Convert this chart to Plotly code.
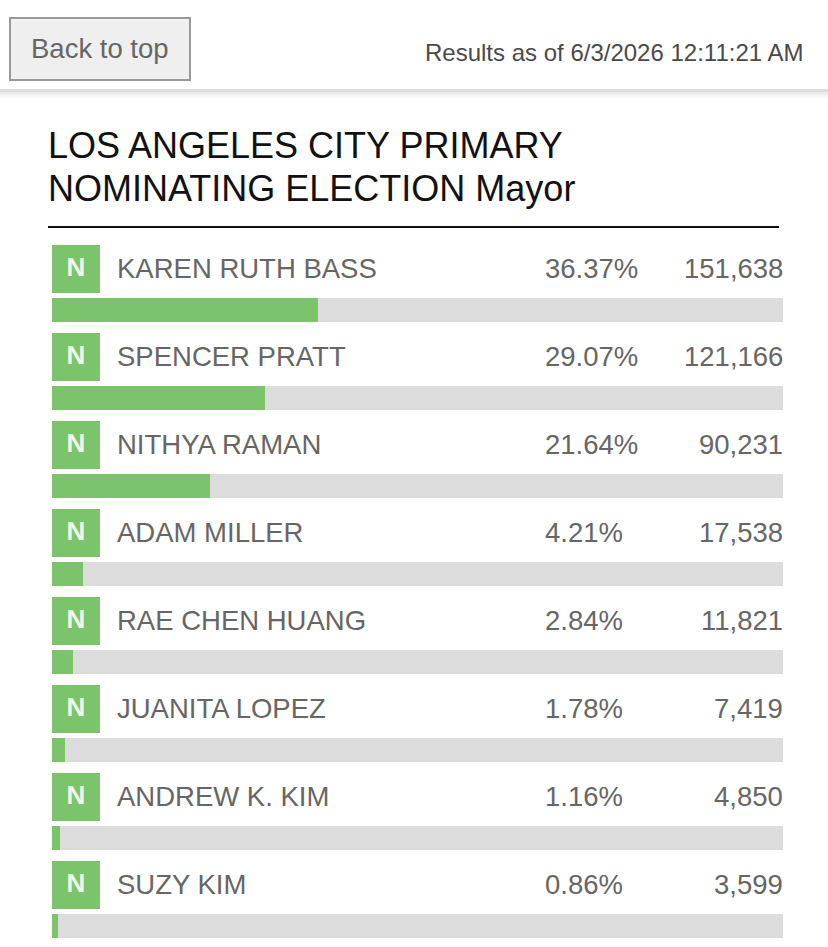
import plotly.graph_objects as go

candidates = ["KAREN RUTH BASS", "SPENCER PRATT", "NITHYA RAMAN", "ADAM MILLER",
              "RAE CHEN HUANG", "JUANITA LOPEZ", "ANDREW K. KIM", "SUZY KIM"]
pct = [36.37, 29.07, 21.64, 4.21, 2.84, 1.78, 1.16, 0.86]
votes = [151638, 121166, 90231, 17538, 11821, 7419, 4850, 3599]
party = ["N"] * len(candidates)

title_lines = ["LOS ANGELES CITY PRIMARY", "NOMINATING ELECTION Mayor"]
stamp = "Results as of 6/3/2026 12:11:21 AM"

W, H = 828, 947
FONT = "Liberation Sans, Arial, Helvetica, sans-serif"
GREEN = "#7cc46b"
GREY_BAR = "#dcdcdc"
TXT = "#666666"

# page layout in pixels
bar_left, bar_right = 52, 783
row0, row_h = 268, 88
px_per = (bar_right - bar_left) / 100.0


def px_x(px):
    return (px - bar_left) / px_per


label_y = [row0 + row_h * i for i in range(len(candidates))]
bar_y = [row0 + 42 + row_h * i for i in range(len(candidates))]
box_y = [row0 + 1 + row_h * i for i in range(len(candidates))]

fig = go.Figure()

fig.add_trace(go.Bar(x=[100] * len(candidates), y=bar_y, orientation="h", width=24,
                     marker=dict(color=GREY_BAR, line=dict(width=0)),
                     hoverinfo="skip", showlegend=False))
fig.add_trace(go.Bar(x=pct, y=bar_y, orientation="h", width=24,
                     marker=dict(color=GREEN, line=dict(width=0)),
                     hoverinfo="skip", showlegend=False))

fig.add_trace(go.Scatter(x=[px_x(76)] * len(candidates), y=box_y, mode="markers+text",
                         marker=dict(symbol="square", size=48, color=GREEN, line=dict(width=0)),
                         text=party, textposition="middle center",
                         textfont=dict(family=FONT, size=26, color="#eefbe8", weight="bold"),
                         hoverinfo="skip", showlegend=False))


def label(x, y, text, anchor, size, color, yref="y"):
    return dict(x=x / W, xref="paper", y=y, yref=yref, text=text,
                xanchor=anchor, yanchor="middle", showarrow=False,
                borderpad=0, borderwidth=0,
                font=dict(family=FONT, size=size, color=color))


ann = []
for i, name in enumerate(candidates):
    ann.append(label(117, label_y[i], name, "left", 27.5, TXT))
    ann.append(label(545, label_y[i], f"{pct[i]:.2f}%", "left", 27.5, TXT))
    ann.append(label(783, label_y[i], f"{votes[i]:,}", "right", 27.5, TXT))

# header
ann.append(label(100, 1 - 49 / H, "Back to top", "center", 27.5, "#666666", "paper"))
ann.append(label(803, 1 - 52 / H, stamp, "right", 24, "#4a4a4a", "paper"))
for k, line in enumerate(title_lines):
    ann.append(label(48, 1 - (145 + 43 * k) / H, line, "left", 36, "#111111", "paper"))

shapes = [
    dict(type="rect", xref="paper", yref="paper", x0=10 / W, x1=190 / W,
         y0=1 - 80 / H, y1=1 - 18 / H, fillcolor="#efefef",
         line=dict(color="#999999", width=2)),
    dict(type="line", xref="paper", yref="paper", x0=48 / W, x1=779 / W,
         y0=1 - 227 / H, y1=1 - 227 / H, line=dict(color="#111111", width=2)),
]
# soft shadow under the header bar
for j, c in enumerate(["#d0d0d0", "#dddddd", "#e7e7e7", "#eeeeee", "#f4f4f4", "#f9f9f9"]):
    shapes.append(dict(type="line", xref="paper", yref="paper", x0=0, x1=1,
                       y0=1 - (90 + j * 1.5) / H, y1=1 - (90 + j * 1.5) / H,
                       line=dict(color=c, width=1.5)))

fig.update_layout(
    width=W, height=H, margin=dict(l=0, r=0, t=0, b=0),
    paper_bgcolor="white", plot_bgcolor="white",
    barmode="overlay", bargap=0,
    xaxis=dict(range=[px_x(0), px_x(W)], visible=False, fixedrange=True),
    yaxis=dict(range=[H, 0], visible=False, fixedrange=True),
    annotations=ann, shapes=shapes, showlegend=False,
)

fig.write_html("out.html", config={"displayModeBar": False},
               post_script="document.body.style.margin='0';document.body.style.overflow='hidden';")
